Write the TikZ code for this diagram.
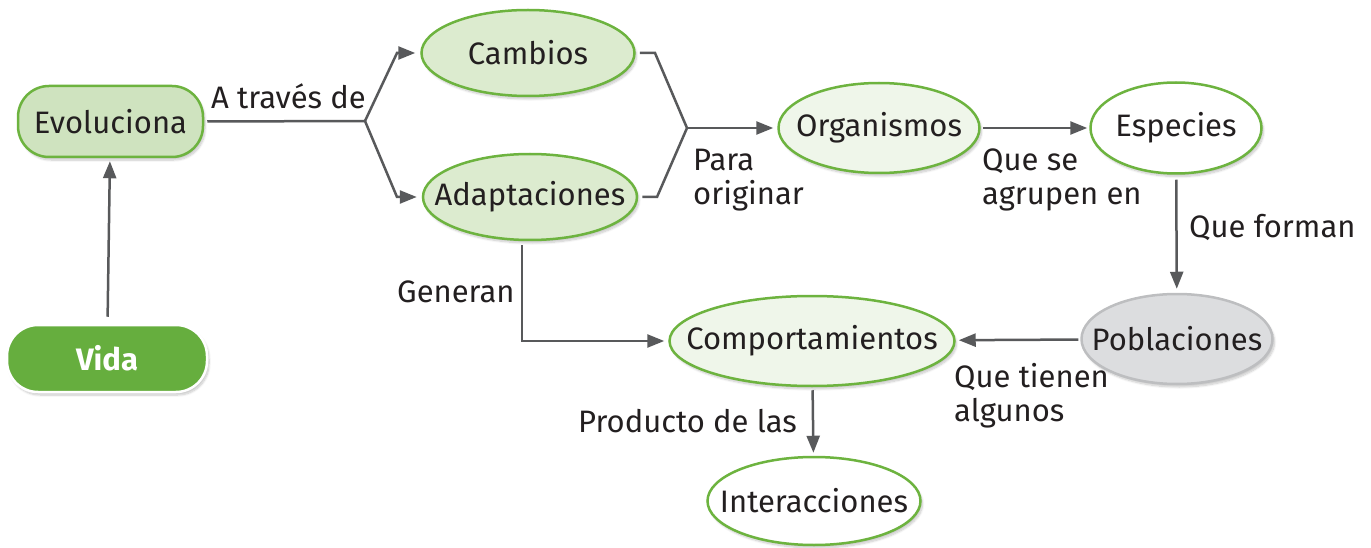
\documentclass[tikz,border=0pt]{standalone}
\usepackage{fontspec}
\setmainfont{Fira Sans}
\usetikzlibrary{arrows.meta,shapes.geometric,shadows.blur}
\definecolor{lc}{HTML}{58595B}
\definecolor{gb}{HTML}{6DB33F}
\definecolor{fa}{HTML}{CFE3BF}
\definecolor{fb}{HTML}{DCEBCF}
\definecolor{fc}{HTML}{EFF6EA}
\definecolor{vg}{HTML}{66AE3E}
\definecolor{pf}{HTML}{DCDDDF}
\definecolor{pb}{HTML}{BDBEC0}
\definecolor{tx}{HTML}{231F20}
\begin{document}
\begin{tikzpicture}[x=1pt,y=-1pt,
  font=\fontsize{31}{34}\selectfont, text=tx,
  conn/.style={draw=lc, line width=2.5pt},
  arr/.style={conn, -{Triangle[length=17pt,width=13pt]}},
  shad/.style={blur shadow={shadow blur steps=8, shadow xshift=2pt, shadow yshift=-3pt, shadow opacity=22}},
  oval/.style={ellipse, draw=gb, line width=2.5pt, inner sep=0pt, shad},
  pill/.style={rectangle, rounded corners=31pt, line width=2.5pt, inner sep=0pt, shad},
  txt/.style={inner sep=0pt},
  lab/.style={inner sep=0pt, align=left, anchor=west}]
\useasboundingbox (0,0) rectangle (1371,548);

% nodes
\node[pill, draw=gb, fill=fa, minimum width=185pt, minimum height=71pt] (evo) at (110.5,121.5) {Evoluciona};
\node[pill, draw=white, fill=vg, text=white, minimum width=200pt, minimum height=67pt, font=\fontsize{31}{34}\selectfont\bfseries] (vida) at (107,358.5) {Vida};
\node[oval, fill=fb, minimum width=213pt, minimum height=86pt] (camb) at (528,53) {};
\node[oval, fill=fb, minimum width=214pt, minimum height=86pt] (adapt) at (530,197) {};
\node[oval, fill=fc, minimum width=201pt, minimum height=90pt] (org) at (879,128) {};
\node[oval, fill=white, minimum width=171pt, minimum height=91pt] (esp) at (1176,128) {};
\node[oval, draw=pb, fill=pf, minimum width=191pt, minimum height=90pt] (pob) at (1177,339) {};
\node[oval, fill=fc, minimum width=285pt, minimum height=90pt] (comp) at (812,341) {};
\node[oval, fill=white, minimum width=213pt, minimum height=88pt] (inter) at (814,501) {};

\node[txt] (tcamb) at (camb) {Cambios};
\node[txt] (tadapt) at (adapt) {Adaptaciones};
\node[txt] (torg) at (org) {Organismos};
\node[txt] (tesp) at (esp) {Especies};
\node[txt] (tpob) at (pob) {Poblaciones};
\node[txt] (tcomp) at (comp) {Comportamientos};
\node[txt] (tinter) at (inter) {Interacciones};

% helper coordinates
\coordinate (j1) at (365,121);
\coordinate (c1) at (397,53);
\coordinate (c2) at (397,197);
\coordinate (c3) at (655,53);
\coordinate (c4) at (657,197);
\coordinate (j2) at (687,128);

% connectors
\draw[arr, shorten <=7pt, shorten >=3pt] (vida) -- (evo);
\draw[conn, shorten <=3pt] (evo.east) -- (j1);
\draw[arr, shorten >=5pt] (j1) -- (c1) -- (camb.west);
\draw[arr, shorten >=5pt] (j1) -- (c2) -- (adapt.west);
\draw[conn, shorten <=4pt, shorten >=4pt] (camb.east) -- (c3) -- (j2) -- (c4) -- (adapt.east);
\draw[arr, shorten >=4pt] (j2) -- (org.west);
\draw[arr, shorten <=2pt, shorten >=2pt] (org) -- (esp);
\draw[arr, shorten <=5pt, shorten >=4pt] (esp) -- (pob);
\draw[arr, shorten <=2pt, shorten >=3pt] (pob) -- (comp);
\draw[arr, shorten <=3pt, shorten >=3pt] (comp) -- (inter);
\draw[arr, shorten >=4pt] ([xshift=-8pt,yshift=-4pt]adapt.south) |- (comp.west);

% labels
\node[lab] (l1) at (211,96) {A través de};
\node[lab] (l2) at (693,180) {Para\\originar};
\node[lab] (l3) at (982,180) {Que se\\agrupen en};
\node[lab] (l4) at (1189,227) {Que forman};
\node[lab] (l5) at (954,396) {Que tienen\\algunos};
\node[lab] (l6) at (397,292) {Generan};
\node[lab] (l7) at (578,421) {Producto de las};
\end{tikzpicture}
\end{document}
